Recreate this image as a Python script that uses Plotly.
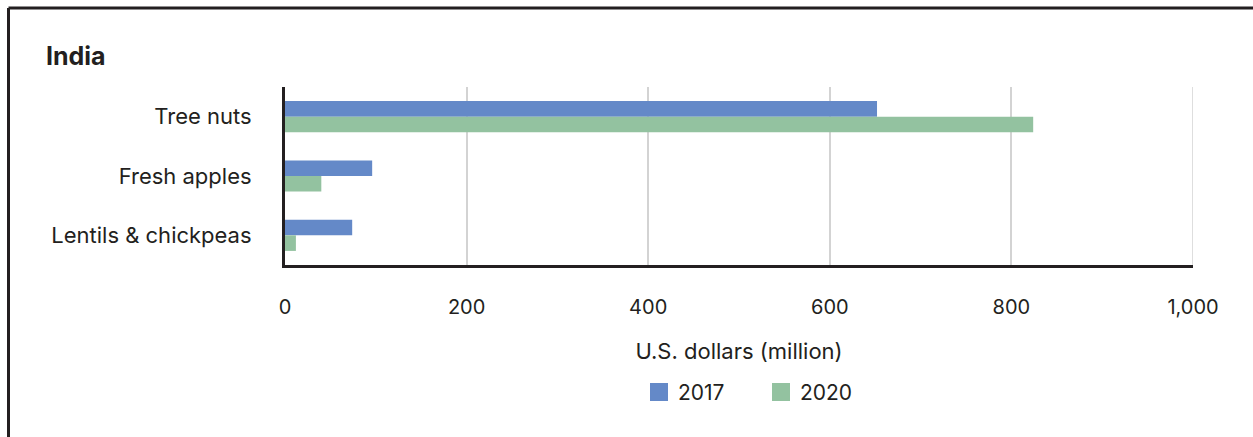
import plotly.graph_objects as go

categories = ["Tree nuts", "Fresh apples", "Lentils & chickpeas"]
values_2017 = [652, 96, 74]
values_2020 = [824, 40, 12]
years = ["2017", "2020"]
x_ticks = [0, 200, 400, 600, 800, 1000]
x_tick_labels = ["0", "200", "400", "600", "800", "1,000"]

BLUE = "#6489C8"
GREEN = "#93C2A0"
INK = "#231F20"
FONT = "Inter, Roboto, Arial, sans-serif"

W, H = 1253, 437
L, R, T, B = 285, 60, 87, 172
pw, ph = W - L - R, H - T - B


def px_x(p):
    return (p - L) / pw


def px_y(p):
    return 1 - (p - T) / ph


fig = go.Figure()
fig.add_trace(go.Bar(y=categories, x=values_2017, name=years[0], orientation="h",
                     marker=dict(color=BLUE, line=dict(width=0))))
fig.add_trace(go.Bar(y=categories, x=values_2020, name=years[1], orientation="h",
                     marker=dict(color=GREEN, line=dict(width=0))))

# frame lines along the top and left edges
shapes = [
    dict(type="line", xref="paper", yref="paper", x0=px_x(8.5), x1=px_x(W + 5),
         y0=px_y(8), y1=px_y(8), line=dict(color=INK, width=3)),
    dict(type="line", xref="paper", yref="paper", x0=px_x(8.5), x1=px_x(8.5),
         y0=px_y(8), y1=px_y(H + 5), line=dict(color=INK, width=3)),
    dict(type="line", xref="x", yref="paper", x0=1000, x1=1000, y0=0, y1=1,
         line=dict(color="#D3D3D3", width=1.5), layer="below"),
]
annotations = [dict(text="<b>India</b>", x=px_x(44), y=px_y(56), xref="paper", yref="paper",
                    xanchor="left", yanchor="middle", showarrow=False,
                    font=dict(size=25, color=INK))]

# legend: large square swatches with year labels below the axis title
legend_left = [650, 772]
for year, color, left in zip(years, (BLUE, GREEN), legend_left):
    shapes.append(dict(type="rect", xref="paper", yref="paper",
                       x0=px_x(left), x1=px_x(left + 18), y0=px_y(383), y1=px_y(401),
                       fillcolor=color, line=dict(width=0)))
    annotations.append(dict(text=year, x=px_x(left + 26), y=px_y(392), xref="paper",
                            yref="paper", xanchor="left", yanchor="middle", showarrow=False,
                            font=dict(size=21, color=INK)))

fig.update_layout(
    width=W, height=H,
    margin=dict(l=L, r=R, t=T, b=B, autoexpand=False),
    paper_bgcolor="white", plot_bgcolor="white",
    font=dict(family=FONT, color=INK, size=21),
    barmode="group", bargap=0.475, bargroupgap=0,
    showlegend=False,
    xaxis=dict(range=[0, 1000], tickvals=x_ticks, ticktext=x_tick_labels,
               showgrid=True, gridcolor="#D3D3D3", gridwidth=1.5,
               zeroline=False, showline=True, linecolor=INK, linewidth=3,
               ticks="", ticklabelstandoff=22, tickfont=dict(size=20),
               title=dict(text="U.S. dollars (million)", font=dict(size=22), standoff=26),
               fixedrange=True),
    yaxis=dict(autorange="reversed", showgrid=False, zeroline=False,
               showline=True, linecolor=INK, linewidth=3, ticks="",
               ticklabelstandoff=26, tickfont=dict(size=22), fixedrange=True),
    annotations=annotations,
    shapes=shapes,
)

fig.write_html("out.html", config={"displayModeBar": False})
